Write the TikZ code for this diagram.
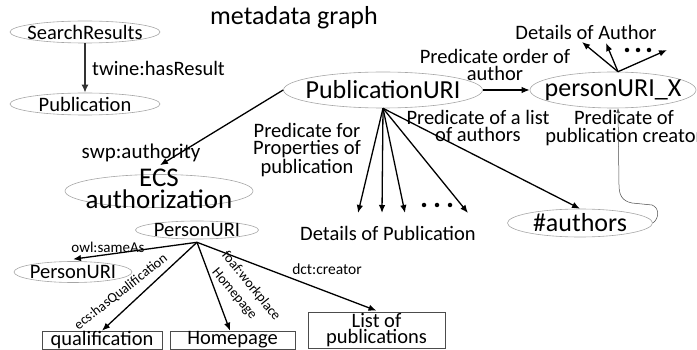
\documentclass[tikz,border=0pt]{standalone}
\usepackage{fontspec}
\setmainfont{Carlito}
\usetikzlibrary{shapes.geometric,arrows.meta}
\begin{document}
\begin{tikzpicture}[x=1pt,y=-1pt,
  ell/.style={draw=gray!70, line width=0.6pt, ellipse, inner sep=0pt},
  box/.style={draw=gray!60!black, line width=0.6pt, rectangle, inner sep=0pt},
  fbig/.style={font=\fontsize{26}{22}\selectfont},
  fmid/.style={font=\fontsize{20.5}{17.5}\selectfont},
  fsm/.style={font=\fontsize{14}{16}\selectfont},
  arr/.style={line width=1.3pt, -{Latex[length=8pt,width=6.5pt]}},
  dotm/.style={circle, fill=black, inner sep=0pt, minimum size=4.5pt},
]
\useasboundingbox (0,0) rectangle (697,350);

% title
\node[fbig] (title) at (294,18) {metadata graph};

% search results
\node[ell, minimum width=150pt, minimum height=22pt, label={[fmid]center:SearchResults}] (sr) at (85,32) {};
\node[ell, minimum width=150pt, minimum height=22pt, label={[fmid]center:Publication}] (pub) at (85,104) {};
\draw[line width=1.8pt, draw=gray!40!black, -{Latex[length=8pt,width=7pt]}] (sr) -- (pub)
  node[fmid, midway, right=3pt] (lhr) {twine:hasResult};

% publication URI and person
\node[ell, minimum width=199pt, minimum height=36pt, label={[fbig]center:PublicationURI}] (pu) at (383,90) {};
\node[ell, minimum width=166pt, minimum height=36pt, label={[fbig]center:personURI\_X}] (pux) at (613,90) {};
\draw[arr] (pu) -- (pux);
\node[fmid, align=center] (lord) at (495,65) {Predicate order of\\author};

% details of author
\node[fmid] (doa) at (586,32) {Details of Author};
\coordinate (pxo) at ([xshift=5pt]pux.north);
\coordinate (da1) at (582,42);
\coordinate (da2) at (606,43);
\coordinate (da3) at (667,50);
\draw[arr] (pxo) -- (da1);
\draw[arr] (pxo) -- (da2);
\draw[arr] (pxo) -- (da3);
\node[dotm] (ad1) at (627,50) {};
\node[dotm] (ad2) at (638,50) {};
\node[dotm] (ad3) at (649,50) {};

% details of publication
\coordinate (dp1) at (358,213);
\coordinate (dp2) at (382,213);
\coordinate (dp3) at (405,213);
\coordinate (dp4) at (468,213);
\draw[arr] (pu.south) -- (dp1);
\draw[arr] (pu.south) -- (dp2);
\draw[arr] (pu.south) -- (dp3);
\draw[arr] (pu.south) -- (dp4);
\node[dotm] (pd1) at (424,205) {};
\node[dotm] (pd2) at (437,205) {};
\node[dotm] (pd3) at (450,205) {};
\node[fmid] (dop) at (388,233) {Details of Publication};
\node[fmid, align=center] (lprop) at (307,150) {Predicate for\\Properties of\\publication};

% authors
\node[ell, minimum width=145pt, minimum height=28pt, label={[fbig]center:\#authors}] (aut) at (580,223) {};
\draw[arr] (pu.south) -- (aut.north);
\node[fmid, align=center] (llist) at (478,126) {Predicate of a list\\of authors};
\node[fmid, align=center] (lcre) at (624,128) {Predicate of\\publication creator};
\draw[line width=0.5pt, draw=gray!60!black, -{Latex[length=4.5pt,width=3.5pt]}]
  (aut.east) .. controls (659,219) and (660,208) .. (652,205)
  -- (632,203) .. controls (622,201) and (619,195) .. (619,185)
  -- ([xshift=5pt]pux.south);

% ECS
\node[ell, minimum width=188pt, minimum height=33pt] (ecs) at (159,191) {};
\node[align=center, font=\fontsize{27}{22}\selectfont] (ecst) at (159,189) {ECS\\authorization};
\draw[arr] (pu.west) -- ([xshift=1pt,yshift=9pt]ecs.north);
\node[font=\fontsize{21}{20}\selectfont] (lswp) at (141,153) {swp:authority};

% person URI
\node[ell, minimum width=123pt, minimum height=18pt, label={[fmid]center:PersonURI}] (pp) at (197,230) {};
\coordinate (ppo) at ([yshift=-3pt]pp.south);
\node[ell, minimum width=118pt, minimum height=21pt, label={[fmid]center:PersonURI}] (ppl) at (73,272) {};
\draw[arr] (ppo) -- ([yshift=2pt]ppl.north);
\node[font=\fontsize{15}{17}\selectfont] (lowl) at (108,247) {owl:sameAs};

\node[box, minimum width=120pt, minimum height=18pt, fmid] (qual) at (102,340) {qualification};
\node[box, minimum width=125pt, minimum height=18pt, fmid] (hp) at (232.5,340) {Homepage};
\node[box, minimum width=137pt, minimum height=36pt, align=center, font=\fontsize{20.5}{16.5}\selectfont] (lp) at (376.5,330) {List of\\publications};

\draw[arr] (ppo) -- (qual.north);
\draw[arr] (ppo) -- ([xshift=-2.5pt]hp.north);
\draw[arr] (ppo) -- ([yshift=1pt]lp.north);

\node[fsm, rotate=38] (lq) at (121,292) {ecs:hasQualification};
\node[fsm, rotate=-51] (lfw) at (251,286) {foaf:workplace};
\node[fsm, rotate=-50] (lhpg) at (234,294) {Homepage};
\node[font=\fontsize{15.5}{17}\selectfont] (ldct) at (327,269) {dct:creator};
\end{tikzpicture}
\end{document}
